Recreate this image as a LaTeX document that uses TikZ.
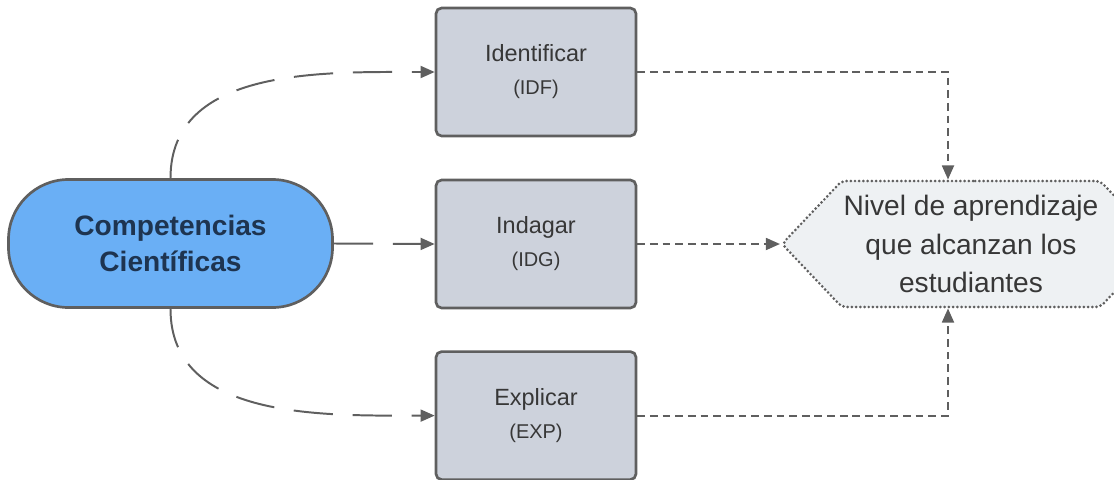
\documentclass[tikz,border=0pt]{standalone}
\usepackage{fontspec}
\setmainfont{Liberation Sans}
\usetikzlibrary{arrows.meta, positioning, shapes.symbols}

\definecolor{pillblue}{RGB}{106,175,245}
\definecolor{boxgray}{RGB}{205,210,220}
\definecolor{nivgray}{RGB}{238,241,243}
\definecolor{linegray}{RGB}{95,95,95}
\definecolor{txtgray}{RGB}{55,55,55}
\definecolor{navytxt}{RGB}{30,52,80}

\tikzset{
  compbox/.style={draw=linegray, line width=1.9pt, fill=pillblue, rounded corners=1.5cm,
    minimum width=8.1cm, minimum height=3.2cm, align=center, text=navytxt,
    font=\bfseries\fontsize{20}{25}\selectfont},
  skillbox/.style={draw=linegray, line width=1.9pt, fill=boxgray, rounded corners=4pt,
    minimum width=5cm, minimum height=3.2cm, align=center, text=txtgray,
    font=\fontsize{16.7}{23.5}\selectfont},
  levelbox/.style={signal, signal to=west and east, signal pointer angle=93,
    draw=linegray, line width=2.1pt, dash pattern=on 0pt off 3pt, line cap=round,
    rounded corners=3pt,
    fill=nivgray, minimum width=9.45cm, minimum height=3.15cm, inner sep=0pt,
    align=center, text=txtgray, font=\fontsize{20}{27.5}\selectfont},
  longdash/.style={draw=linegray, line width=1.4pt, dash pattern=on 28pt off 14pt,
    -{Triangle[length=10pt,width=8.5pt]}},
  shortdash/.style={draw=linegray, line width=1.4pt, dash pattern=on 5.5pt off 3.5pt,
    -{Triangle[length=10pt,width=8.5pt]}}
}

\begin{document}
\begin{tikzpicture}
\useasboundingbox (0,0) rectangle (27.85,-11.975);
\clip (0,0) rectangle (27.85,-11.975);

% nodes
\node[compbox] (comp) at (4.2625,-6.0875) {Competencias\\Científicas};
\node[skillbox] (idf) at (13.4,-1.8) {Identificar\\{\fontsize{14.2}{23.5}\selectfont (IDF)}};
\node[skillbox] (idg) at (13.4,-6.1) {Indagar\\{\fontsize{14.2}{23.5}\selectfont (IDG)}};
\node[skillbox] (exp) at (13.4,-10.39) {Explicar\\{\fontsize{14.2}{23.5}\selectfont (EXP)}};
\node[levelbox] (niv) at (24.275,-6.1) {Nivel de aprendizaje\\que alcanzan los\\estudiantes};

% connectors
\draw[longdash] (comp.north) to[out=90, in=180] (idf.west);
\draw[longdash] (comp.east) -- (idg.west);
\draw[longdash] (comp.south) to[out=-90, in=180] (exp.west);
\draw[shortdash] (idf.east) -| ([xshift=-5.75mm]niv.north);
\draw[shortdash] (idg.east) -- (niv.west);
\draw[shortdash] (exp.east) -| ([xshift=-5.75mm]niv.south);
\end{tikzpicture}
\end{document}
